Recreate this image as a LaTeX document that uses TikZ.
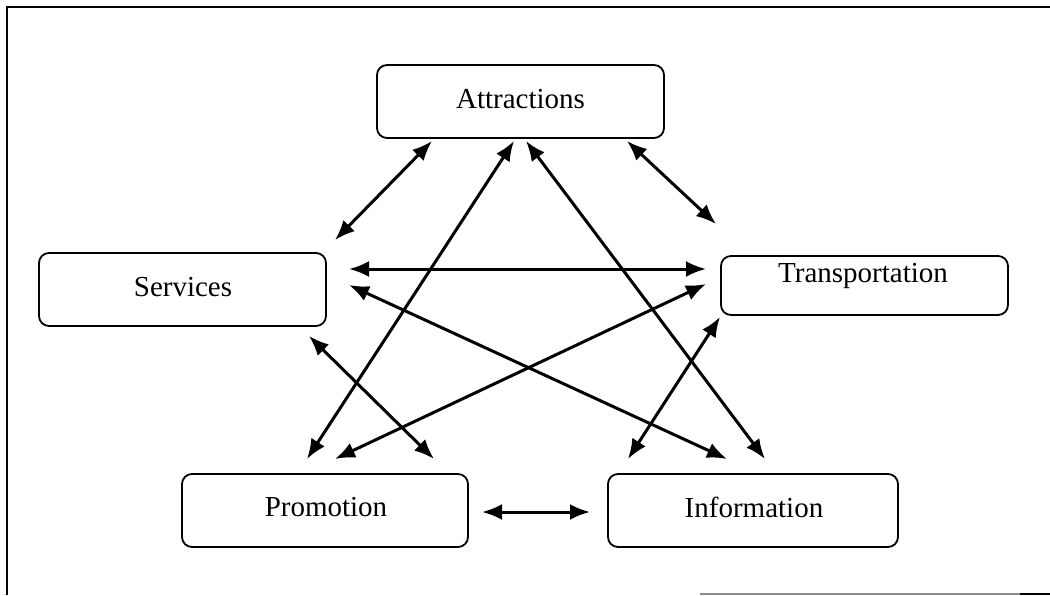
\documentclass[tikz,border=0pt]{standalone}
\usepackage{fontspec}
\setmainfont{Liberation Serif}
\usetikzlibrary{arrows.meta}
\begin{document}
\begin{tikzpicture}[x=1pt,y=-1pt,
  box/.style={draw,line width=1.8pt,rounded corners=10pt,minimum width=#1,minimum height=73pt,inner sep=0pt},
  box/.default=287pt,
  label/.style={font=\fontsize{29}{32}\selectfont,inner sep=0pt},
  link/.style={line width=3pt,{Latex[length=20pt,width=16pt]}-{Latex[length=20pt,width=16pt]}},
  frame/.style={line width=1.6pt}]
\useasboundingbox (0,0) rectangle (1050,595);

% outer frame
\draw[frame] (7,595) -- (7,7) -- (1050,7);
\draw[line width=1.5pt,black!45] (700,594) -- (1020,594);
\draw[line width=1.5pt] (1020,594) -- (1050,594);

% boxes
\node[box] (attr) at (520.5,101.5) {};
\node[label] at (520.5,99) {Attractions};
\node[box] (serv) at (182.5,289.5) {};
\node[label] at (183,287) {Services};
\node[box,minimum height=59pt] (trans) at (864.5,285.5) {};
\node[label] at (863,276) {Transportation};
\node[box,minimum width=286pt] (promo) at (325,510.5) {};
\node[label] at (326,507) {Promotion};
\node[box,minimum width=290pt] (info) at (753,510.5) {};
\node[label] at (754,507) {Information};

% connector ends
\coordinate (aS) at (432,141);
\coordinate (aT) at (627,141);
\coordinate (aP) at (514,141);
\coordinate (aI) at (526,141);
\coordinate (sA) at (335,240);
\coordinate (sT) at (349,269);
\coordinate (sI) at (349,285);
\coordinate (sP) at (309,336);
\coordinate (tA) at (716,224);
\coordinate (tS) at (706,269);
\coordinate (tP) at (706,284);
\coordinate (tI) at (720,317);
\coordinate (pA) at (307,459);
\coordinate (pT) at (335,459);
\coordinate (pS) at (434,459);
\coordinate (pI) at (482,512);
\coordinate (iA) at (765,459);
\coordinate (iS) at (727,459);
\coordinate (iT) at (628,459);
\coordinate (iP) at (590,512);

% connectors
\draw[link] (aS) -- (sA);
\draw[link] (aT) -- (tA);
\draw[link] (aP) -- (pA);
\draw[link] (aI) -- (iA);
\draw[link] (sT) -- (tS);
\draw[link] (sI) -- (iS);
\draw[link] (tP) -- (pT);
\draw[link] (sP) -- (pS);
\draw[link] (tI) -- (iT);
\draw[link] (pI) -- (iP);
\end{tikzpicture}
\end{document}
